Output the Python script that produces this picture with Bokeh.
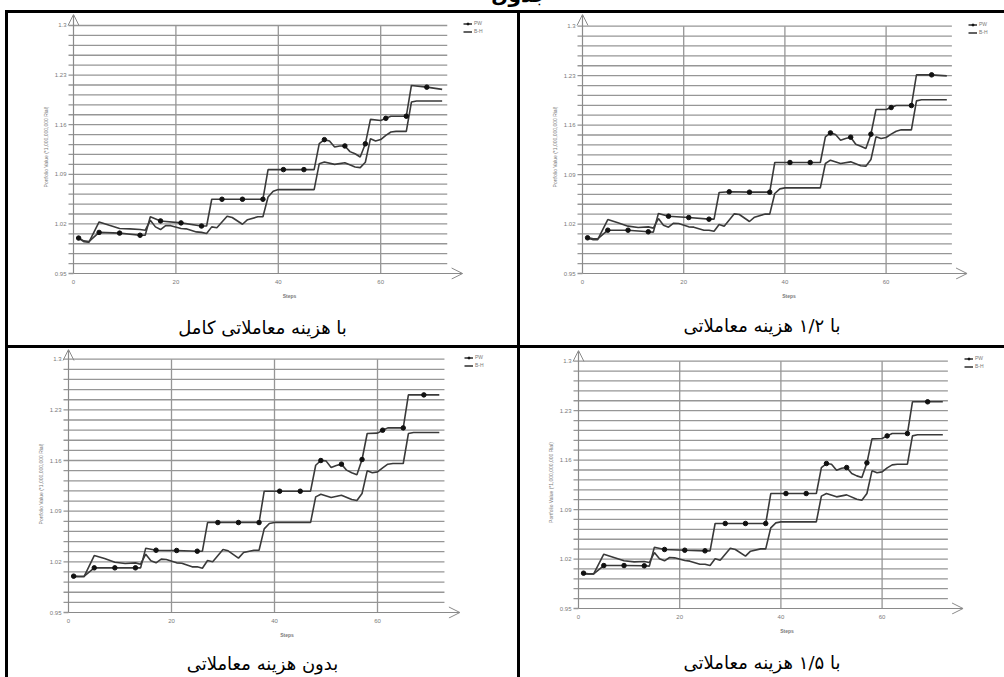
from bokeh.plotting import figure
from bokeh.models import (FixedTicker, Legend, LegendItem, Arrow, OpenHead,
                          Div, Range1d, ColumnDataSource)
from bokeh.layouts import column, row
from bokeh.embed import file_html
from bokeh.resources import INLINE

# ---------------------------------------------------------------- data
TABLE_TITLE = "جدول"
CAPTIONS = ["با هزینه معاملاتی کامل", "با ۱/۲ هزینه معاملاتی",
            "بدون هزینه معاملاتی", "با ۱/۵ هزینه معاملاتی"]

X_LABEL = "Steps"
Y_LABEL = "Portfolio Value (*1,000,000,000 Rial)"
X_TICKS = [0, 20, 40, 60]
Y_TICKS = [0.95, 1.02, 1.09, 1.16, 1.23, 1.3]
Y_TICK_LABELS = ["0.95", "1.02", "1.09", "1.16", "1.23", "1.3"]
SERIES_NAMES = ["PW", "B-H"]

# steps at which the PW curve changes direction
PW_STEPS = [1, 2, 3, 5, 9, 13, 14, 15, 17, 21, 25, 26, 27, 29, 33, 37, 38, 41, 45, 47,
            48, 49, 50, 51, 52, 53, 54, 55, 56, 57, 58, 60, 61, 62, 65, 66, 69, 72]
# steps carrying a PW marker
PW_MARK_STEPS = [1, 5, 9, 13, 17, 21, 25, 29, 33, 37, 41, 45, 49, 53, 57, 61, 65, 69]
# steps at which the B-H curve changes direction
BH_STEPS = [1, 2, 3, 5, 7, 9, 11, 13, 14, 15, 16, 17, 18, 19, 21, 22, 24, 25, 26, 27,
            28, 30, 31, 33, 34, 36, 37, 38, 39, 40, 47, 48, 49, 51, 53, 55, 56, 57, 58,
            59, 60, 61, 62, 63, 65, 66, 67, 72]

# full transaction cost
PW_FULL = [1.000, 0.996, 0.995, 1.008, 1.007, 1.004, 1.004, 1.030, 1.0242, 1.0214,
           1.017, 1.017, 1.0548, 1.0548, 1.0548, 1.0548, 1.0966, 1.0966, 1.0966, 1.0966,
           1.1332, 1.1389, 1.137, 1.1285, 1.130, 1.130, 1.122, 1.119, 1.1144, 1.133,
           1.1675, 1.166, 1.169, 1.172, 1.172, 1.2154, 1.213, 1.2098]
BH_FULL = [1.000, 0.995, 0.994, 1.0228, 1.018, 1.0134, 1.013, 1.012, 1.011, 1.025,
           1.0158, 1.012, 1.0177, 1.0175, 1.0134, 1.013, 1.0087, 1.008, 1.0064, 1.0158,
           1.0145, 1.0308, 1.029, 1.0195, 1.026, 1.030, 1.030, 1.058, 1.066, 1.0684,
           1.0684, 1.105, 1.1074, 1.104, 1.1064, 1.1003, 1.0994, 1.107, 1.1403, 1.137,
           1.139, 1.145, 1.1497, 1.1506, 1.1506, 1.192, 1.1934, 1.1934]

# half transaction cost
PW_HALF = [1.0005, 0.9995, 0.999, 1.0113, 1.0113, 1.009, 1.0085, 1.0349, 1.0311, 1.0292,
           1.0269, 1.0269, 1.0646, 1.0656, 1.0651, 1.0651, 1.1071, 1.1071, 1.1071, 1.1071,
           1.1434, 1.149, 1.1467, 1.1387, 1.141, 1.1429, 1.133, 1.1302, 1.1269, 1.1472,
           1.1821, 1.1821, 1.1849, 1.1877, 1.1877, 1.2311, 1.2311, 1.2297]
BH_HALF = [1.000, 0.998, 0.998, 1.0264, 1.0217, 1.017, 1.0151, 1.016, 1.0142, 1.0278,
           1.0184, 1.0156, 1.0212, 1.0208, 1.016, 1.0156, 1.0113, 1.0113, 1.0099, 1.0193,
           1.017, 1.0344, 1.0335, 1.0236, 1.0297, 1.034, 1.034, 1.0632, 1.0698, 1.0712,
           1.0712, 1.1057, 1.1104, 1.1057, 1.108, 1.1024, 1.1019, 1.1113, 1.1434, 1.141,
           1.1425, 1.1472, 1.1514, 1.1533, 1.1533, 1.1943, 1.1958, 1.1958]

# no transaction cost
PW_NONE = [1.0002, 1.000, 1.000, 1.0117, 1.0117, 1.0117, 1.0117, 1.0389, 1.0361, 1.0357,
           1.0347, 1.0347, 1.0743, 1.0743, 1.0743, 1.0743, 1.1176, 1.1176, 1.1176, 1.1176,
           1.1535, 1.160, 1.1595, 1.1503, 1.1531, 1.155, 1.1467, 1.143, 1.1402, 1.1614,
           1.1973, 1.1978, 1.2019, 1.2051, 1.2051, 1.2507, 1.2507, 1.2507]
BH_NONE = [0.9993, 0.9993, 0.9993, 1.0287, 1.0246, 1.0195, 1.0177, 1.0186, 1.0168, 1.0306,
           1.0214, 1.0186, 1.0237, 1.0232, 1.0186, 1.0181, 1.0131, 1.0131, 1.0112, 1.0218,
           1.020, 1.037, 1.0352, 1.0251, 1.0329, 1.0361, 1.0361, 1.0656, 1.073, 1.0743,
           1.0743, 1.1098, 1.1135, 1.1089, 1.1121, 1.1061, 1.1047, 1.1144, 1.1457, 1.143,
           1.1443, 1.1499, 1.1549, 1.1559, 1.1559, 1.1973, 1.1987, 1.1987]

# one fifth of the transaction cost
PW_FIFTH = [1.000, 0.999, 0.999, 1.0108, 1.0108, 1.0104, 1.010, 1.0368, 1.0335, 1.0325,
            1.0316, 1.0316, 1.0703, 1.0703, 1.0703, 1.0703, 1.1127, 1.1127, 1.1127, 1.1127,
            1.1495, 1.1552, 1.1542, 1.1458, 1.1486, 1.1495, 1.141, 1.1377, 1.1354, 1.1561,
            1.1901, 1.1906, 1.1943, 1.1976, 1.1976, 1.2425, 1.2425, 1.2425]
BH_FIFTH = [0.999, 0.999, 0.999, 1.0269, 1.0222, 1.0175, 1.016, 1.0165, 1.0151, 1.0292,
            1.0203, 1.0175, 1.0222, 1.0217, 1.018, 1.017, 1.0127, 1.0127, 1.0108, 1.0203,
            1.0184, 1.0354, 1.0335, 1.0241, 1.0311, 1.0344, 1.0344, 1.0642, 1.0712, 1.0726,
            1.0726, 1.109, 1.1127, 1.108, 1.1108, 1.1047, 1.1033, 1.1127, 1.1448, 1.142,
            1.1434, 1.1491, 1.1533, 1.1542, 1.1542, 1.1943, 1.1958, 1.1958]

# ---------------------------------------------------------------- style
LINE_COLOR = "#3a3a3a"
GRID_COLOR = "#969696"
AXIS_COLOR = "#8a8a8a"
TEXT_COLOR = "#7a7a7a"
SMALL_FONT = "Liberation Sans"
CAPTION_FONT = "DejaVu Sans"
X_END = 76.0        # end of the x axis arrow
GRID_END = 73.0     # right end of the horizontal grid lines
MINOR_PER_MAJOR = 5
RULE = 3            # table rule thickness
TICK_LEN = 5        # px, tick marks left of the value axis
PAD_L = 7           # px between frame edge and value axis
PAD_B = 6           # px between frame bottom and step axis


def y_levels():
    vals = []
    for a, b in zip(Y_TICKS[:-1], Y_TICKS[1:]):
        step = (b - a) / MINOR_PER_MAJOR
        vals.extend(a + k * step for k in range(MINOR_PER_MAJOR))
    vals.append(Y_TICKS[-1])
    return vals


def make_chart(pw_y, bh_y, width, height, borders, px_step, px_unit, legend_at):
    left, right, top, bottom = borders
    frame_w = width - left - right
    frame_h = height - top - bottom
    x0 = -PAD_L / px_step
    y0 = Y_TICKS[0] - PAD_B / px_unit
    y_top = y0 + frame_h / px_unit
    p = figure(width=width, height=height, output_backend="svg", toolbar_location=None,
               x_range=Range1d(x0, x0 + frame_w / px_step), y_range=Range1d(y0, y_top),
               min_border_left=left, min_border_right=right,
               min_border_top=top, min_border_bottom=bottom,
               background_fill_color="white", border_fill_color="white",
               outline_line_color=None)
    p.xgrid.visible = False
    p.ygrid.visible = False

    # tick marks and horizontal grid (major and minor levels)
    levels = y_levels()
    tick_x = -TICK_LEN / px_step
    p.segment(x0=[tick_x] * len(levels), y0=levels, x1=[0] * len(levels), y1=levels,
              line_color=GRID_COLOR, line_width=1.3)
    grid_src = ColumnDataSource(dict(x0=[0] * (len(levels) - 1),
                                     x1=[GRID_END] * (len(levels) - 1), y=levels[1:]))
    p.segment(x0="x0", y0="y", x1="x1", y1="y", source=grid_src,
              line_color=GRID_COLOR, line_width=1.3)
    # vertical grid at the labelled steps
    vx = X_TICKS[1:]
    p.segment(x0=vx, y0=[Y_TICKS[0]] * len(vx), x1=vx, y1=[Y_TICKS[-1]] * len(vx),
              line_color=GRID_COLOR, line_width=1.3)

    # axes: labels only, the axis lines are arrows drawn in data space
    yax = p.yaxis[0]
    yax.ticker = FixedTicker(ticks=Y_TICKS, minor_ticks=[])
    yax.major_label_overrides = {t: s for t, s in zip(Y_TICKS, Y_TICK_LABELS)}
    yax.major_tick_line_color = None
    yax.minor_tick_line_color = None
    yax.major_tick_out = 0
    yax.major_tick_in = 0
    yax.axis_line_color = None
    yax.major_label_standoff = 0
    yax.major_label_text_font = SMALL_FONT
    yax.major_label_text_font_size = "6px"
    yax.major_label_text_color = TEXT_COLOR
    yax.axis_label = Y_LABEL
    yax.axis_label_text_font = SMALL_FONT
    yax.axis_label_text_font_size = "5px"
    yax.axis_label_text_font_style = "normal"
    yax.axis_label_text_color = TEXT_COLOR
    yax.axis_label_standoff = 3

    xax = p.xaxis[0]
    xax.ticker = FixedTicker(ticks=X_TICKS, minor_ticks=[])
    xax.major_tick_line_color = None
    xax.minor_tick_line_color = None
    xax.major_tick_out = 0
    xax.major_tick_in = 0
    xax.axis_line_color = None
    xax.major_label_standoff = 0
    xax.major_label_text_font = SMALL_FONT
    xax.major_label_text_font_size = "6px"
    xax.major_label_text_color = TEXT_COLOR
    xax.axis_label = X_LABEL
    xax.axis_label_text_font = SMALL_FONT
    xax.axis_label_text_font_size = "5px"
    xax.axis_label_text_font_style = "bold"
    xax.axis_label_text_color = TEXT_COLOR
    xax.axis_label_standoff = 6

    p.add_layout(Arrow(end=OpenHead(size=11, line_color=AXIS_COLOR, line_width=1),
                       x_start=0, y_start=Y_TICKS[0], x_end=X_END, y_end=Y_TICKS[0],
                       line_color=AXIS_COLOR, line_width=1.2))
    p.add_layout(Arrow(end=OpenHead(size=11, line_color=AXIS_COLOR, line_width=1),
                       x_start=0, y_start=Y_TICKS[0], x_end=0, y_end=y_top,
                       line_color=AXIS_COLOR, line_width=1.2))

    # series
    bh = p.line(BH_STEPS, bh_y, line_color=LINE_COLOR, line_width=1.6)
    pw = p.line(PW_STEPS, pw_y, line_color=LINE_COLOR, line_width=1.6)
    lookup = dict(zip(PW_STEPS, pw_y))
    mk = p.scatter(PW_MARK_STEPS, [lookup[s] for s in PW_MARK_STEPS], marker="circle",
                   size=4.5, fill_color="#111111", line_color="#111111")

    legend = Legend(items=[LegendItem(label=SERIES_NAMES[0], renderers=[pw, mk]),
                           LegendItem(label=SERIES_NAMES[1], renderers=[bh])],
                    location=legend_at, orientation="vertical",
                    label_text_font=SMALL_FONT, label_text_font_size="5px",
                    label_text_color=TEXT_COLOR, label_height=5, label_standoff=2,
                    glyph_width=9, glyph_height=5, spacing=2, padding=0, margin=0,
                    border_line_color=None, background_fill_alpha=0)
    p.add_layout(legend)
    return p


def caption_div(text, width, height, center_y):
    line_h = 22
    html = (f'<div dir="rtl" style="width:{width}px;text-align:center;'
            f'font-family:\'{CAPTION_FONT}\';font-size:18px;line-height:{line_h}px;'
            f'color:black;padding-top:{center_y - line_h // 2}px;">{text}</div>')
    return Div(text=html, width=width, height=height, margin=(0, 0, 0, 0),
               styles={"overflow": "hidden", "background-color": "white"})


def rule(width, height):
    return Div(text="", width=width, height=height, margin=(0, 0, 0, 0),
               styles={"background-color": "black"})


def cell(chart, text, width, cap_h, cap_center):
    return column(rule(width, RULE), chart, caption_div(text, width, cap_h, cap_center),
                  spacing=0)


p_full = make_chart(PW_FULL, BH_FULL, 509, 300, (58, 5, 1, 34), 5.12, 708.6,
                    (397, 245))
p_half = make_chart(PW_HALF, BH_HALF, 484, 300, (55, 2, 1, 34), 5.06, 706.6,
                    (393, 244))
p_none = make_chart(PW_NONE, BH_NONE, 509, 300, (53, 5, 1, 30), 5.15, 723.7,
                    (403, 250))
p_fifth = make_chart(PW_FIFTH, BH_FIFTH, 484, 300, (51, 2, 2, 34), 5.06, 706.6,
                     (393, 245))

top_row = row(Div(text="", width=5, height=335, margin=(0, 0, 0, 0)),
              rule(RULE, 335), cell(p_full, CAPTIONS[0], 509, 32, 15),
              rule(RULE, 335), cell(p_half, CAPTIONS[1], 484, 32, 13), spacing=0)
bottom_row = row(Div(text="", width=5, height=332, margin=(0, 0, 0, 0)),
                 rule(RULE, 332), cell(p_none, CAPTIONS[2], 509, 29, 16),
                 rule(RULE, 332), cell(p_fifth, CAPTIONS[3], 484, 29, 15), spacing=0)

# the table heading sits above the top edge of the page; only its lowest strokes show
title = Div(text=('<div style="width:1004px;text-align:center;font-family:\'DejaVu Sans\';'
                  'font-weight:bold;font-size:20px;line-height:24px;position:relative;'
                  'top:-17px;padding-left:34px;">' + TABLE_TITLE + '</div>'),
            width=1004, height=10, styles={"overflow": "hidden"}, margin=(0, 0, 0, 0))

page = column(title, top_row, bottom_row, spacing=0)

open("out.html", "w").write(file_html(page, INLINE))
